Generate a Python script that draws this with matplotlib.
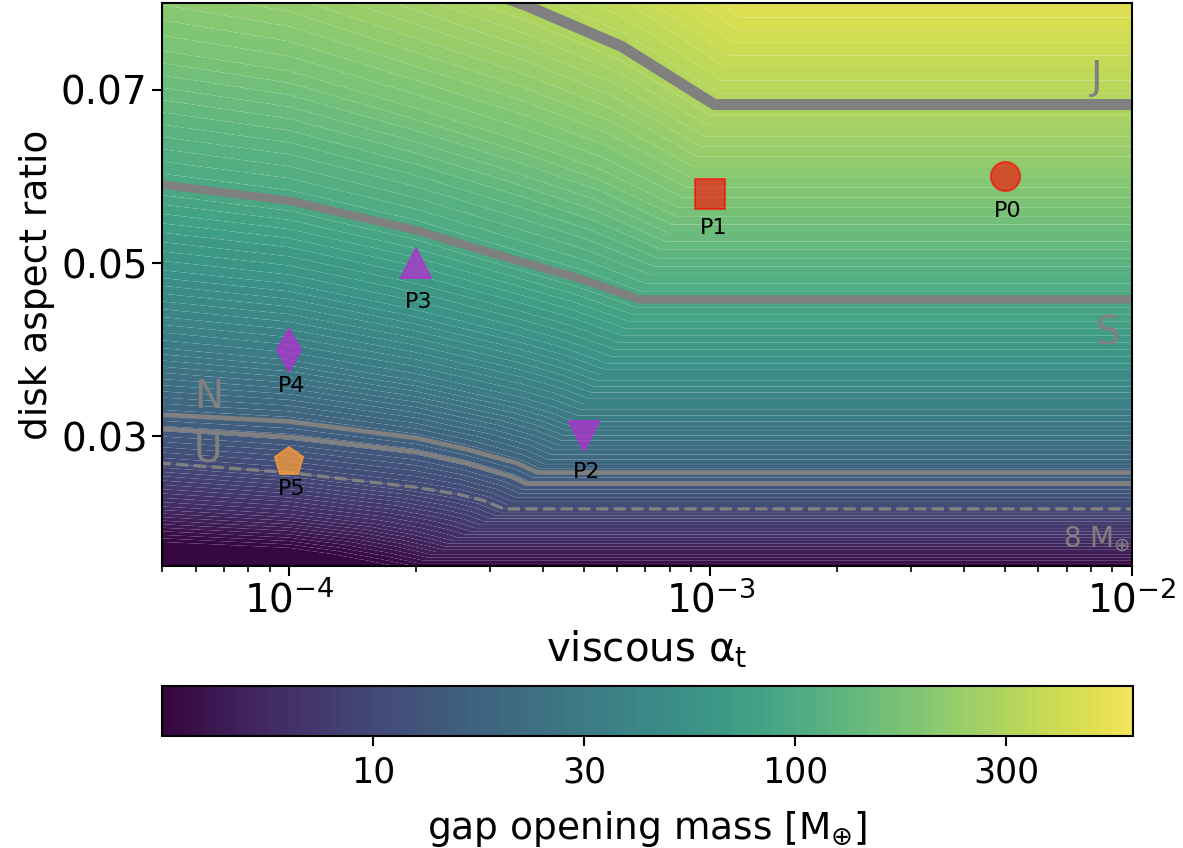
import numpy as np
import matplotlib
matplotlib.use('Agg')
import matplotlib.pyplot as plt
import matplotlib as mpl

plt.rcParams['mathtext.default'] = 'regular'

# iso-mass curves of the gap opening mass:
# for each mass level the curve is given as log10(alpha) and disk aspect ratio
mass_levels = [1, 2, 3.16, 5.62, 10, 14.5, 17, 31.6, 56.2, 95, 178, 318, 562, 1000]

log_alpha_rows = [
    [-4.31, -4.10, -3.98, -3.94, -3.91, -3.89, -1.99],
    [-4.31, -4.00, -3.92, -3.86, -3.82, -3.79, -1.99],
    [-4.31, -4.00, -3.90, -3.80, -3.76, -3.72, -1.99],
    [-4.31, -4.00, -3.80, -3.70, -3.65, -3.61, -1.99],
    [-4.31, -4.00, -3.70, -3.60, -3.54, -3.49, -1.99],
    [-4.31, -4.00, -3.70, -3.58, -3.47, -3.435, -1.99],
    [-4.31, -4.00, -3.70, -3.58, -3.46, -3.41, -1.99],
    [-4.31, -4.00, -3.70, -3.45, -3.385, -3.325, -1.99],
    [-4.31, -4.00, -3.70, -3.45, -3.35, -3.245, -1.99],
    [-4.31, -4.00, -3.70, -3.46, -3.31, -3.17, -1.99],
    [-4.31, -4.00, -3.70, -3.45, -3.26, -3.075, -1.99],
    [-4.31, -4.00, -3.70, -3.44, -3.21, -2.99, -1.99],
    [-4.31, -4.00, -3.70, -3.45, -3.15, -2.906, -1.99],
    [-4.31, -4.00, -3.70, -3.45, -3.10, -2.82, -1.99],
]

aspect_rows = [
    [0.0120, 0.0117, 0.0113, 0.0110, 0.0106, 0.0100, 0.0100],
    [0.0153, 0.0146, 0.0141, 0.0136, 0.0131, 0.0126, 0.0126],
    [0.0178, 0.0171, 0.0164, 0.0155, 0.0151, 0.0147, 0.0147],
    [0.0219, 0.0210, 0.0199, 0.0190, 0.0184, 0.0179, 0.0179],
    [0.0269, 0.0258, 0.0241, 0.0233, 0.0226, 0.0216, 0.0216],
    [0.0309, 0.0299, 0.0282, 0.0269, 0.0253, 0.0245, 0.0245],
    [0.0325, 0.0317, 0.0298, 0.0285, 0.0269, 0.0258, 0.0258],
    [0.0402, 0.0388, 0.0364, 0.0337, 0.0328, 0.0317, 0.0317],
    [0.0492, 0.0476, 0.0446, 0.0416, 0.0402, 0.0384, 0.0384],
    [0.0591, 0.0572, 0.0538, 0.0503, 0.0482, 0.0458, 0.0458],
    [0.0746, 0.0722, 0.0679, 0.0641, 0.0608, 0.0564, 0.0564],
    [0.0925, 0.0895, 0.0842, 0.0798, 0.0750, 0.0683, 0.0683],
    [0.1142, 0.1105, 0.1039, 0.0997, 0.0915, 0.0827, 0.0827],
    [0.1413, 0.1368, 0.1286, 0.1245, 0.1140, 0.1003, 0.1003],
]

# highlighted curves: label -> mass level
planet_labels = ['J', 'S', 'N', 'U', '8']
planet_masses = [318, 95, 17, 14.5, 10]

# simulated planets
point_names = ['P0', 'P1', 'P2', 'P3', 'P4', 'P5']
point_alpha = [5e-3, 1e-3, 5e-4, 2e-4, 1e-4, 1e-4]
point_aspect = [0.060, 0.058, 0.030, 0.050, 0.040, 0.027]

# colour scale (log10 of mass)
log_mass_min, log_mass_max = 0.5, 2.8
cbar_ticks = [1.0, 1.5, 2.0, 2.5]
cbar_ticklabels = ['10', '30', '100', '300']

X = 10 ** np.array(log_alpha_rows)
Y = np.array(aspect_rows)
Z = np.repeat(np.log10(mass_levels)[:, None], X.shape[1], axis=1)

# slightly muted viridis, like the reference picture
base = plt.cm.viridis(np.linspace(0, 1, 256))[:, :3]
lum = base @ np.array([0.2126, 0.7152, 0.0722])
muted = base + 0.3 * (lum[:, None] - base)
cmap = mpl.colors.ListedColormap(muted)

fig = plt.figure(figsize=(11.83, 8.48), dpi=100)
ax = fig.add_axes([0.1372, 0.3325, 0.8195, 0.6636])
cax = fig.add_axes([0.1368, 0.1321, 0.8208, 0.059])

levels = np.arange(log_mass_min, log_mass_max + 1e-6, 0.025)
cs = ax.contourf(X, Y, Z, levels=levels, cmap=cmap, extend='both', antialiased=True)

# planet curves
line_style = {'J': (8, '-'), 'S': (6, '-'), 'N': (3.4, '-'), 'U': (3.2, '-'), '8': (2.4, '--')}
for lab, m in zip(planet_labels, planet_masses):
    i = mass_levels.index(m)
    lw, ls = line_style[lab]
    ax.plot(X[i], Y[i], color='gray', lw=lw, ls=ls, solid_capstyle='butt')

txt = dict(color='gray', fontsize=28, ha='center', va='center')
ax.text(8.26e-3, 0.0714, 'J', **txt)
ax.text(8.77e-3, 0.0419, 'S', **txt)
ax.text(6.45e-5, 0.0345, 'N', **txt)
ax.text(6.4e-5, 0.0284, 'U', **txt)
ax.text(9.9e-3, 0.0172, r'8 M$_{\oplus}$', color='gray', fontsize=20, ha='right', va='baseline')

# markers
markers = ['o', 's', 'v', '^', 'd', 'p']
colors = ['red', 'red', '#b030d0', '#b030d0', '#b030d0', '#f59a3c']
alphas = [0.6, 0.6, 0.75, 0.75, 0.75, 0.8]
label_dy = [-25, -25, -26, -28, -26, -19]
for name, a, h, mk, c, al, dy in zip(point_names, point_alpha, point_aspect, markers, colors, alphas, label_dy):
    ax.plot(a, h, marker=mk, ms=21, color=c, mec=c, mew=1.5, alpha=al, ls='none')
    ax.annotate(name, (a, h), xytext=(2, dy), textcoords='offset points',
                ha='center', va='center', fontsize=16)

ax.set_xscale('log')
ax.set_xlim(5e-5, 1e-2)
ax.set_ylim(0.015, 0.08)
ax.set_yticks([0.03, 0.05, 0.07])
ax.set_xlabel(r'viscous $\alpha_t$', fontsize=29, labelpad=6)
ax.set_ylabel('disk aspect ratio', fontsize=27)
ax.tick_params(axis='both', which='major', labelsize=28, length=7, width=1.5)
ax.tick_params(axis='x', which='minor', length=4, width=1.2)
for sp in ax.spines.values():
    sp.set_linewidth(1.5)

sm = mpl.cm.ScalarMappable(norm=mpl.colors.BoundaryNorm(levels, 256), cmap=cmap)
sm.set_array([])
cbar = fig.colorbar(sm, cax=cax, orientation='horizontal')
cbar.set_ticks(cbar_ticks)
cbar.set_ticklabels(cbar_ticklabels)
cbar.minorticks_off()
cbar.ax.tick_params(labelsize=25, length=7, width=1.5, pad=7)
cbar.outline.set_linewidth(1.5)
cbar.set_label(r'gap opening mass [M$_{\oplus}$]', fontsize=27, labelpad=14)

fig.savefig('out.png', dpi=100)
